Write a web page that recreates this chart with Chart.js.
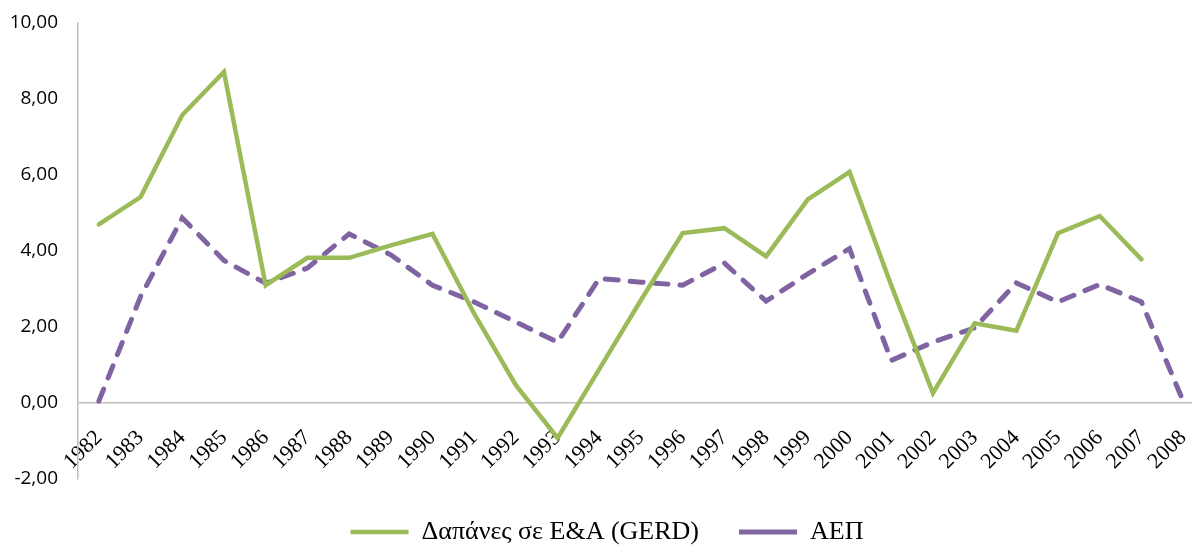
<!DOCTYPE html>
<html>
<head>
<meta charset="utf-8">
<script src="https://cdn.jsdelivr.net/npm/chart.js@4"></script>
<style>
html,body{margin:0;padding:0;overflow:hidden;background:#fff;width:1192px;height:546px}
#wrap{position:relative;width:1212px;height:555px}
</style>
</head>
<body>
<div id="wrap"><canvas id="c" width="1212" height="555"></canvas></div>
<script>
const years = ['1982','1983','1984','1985','1986','1987','1988','1989','1990','1991','1992','1993','1994','1995','1996','1997','1998','1999','2000','2001','2002','2003','2004','2005','2006','2007','2008'];
const gerd = [4.70, 5.42, 7.58, 8.71, 3.10, 3.82, 3.82, 4.15, 4.45, 2.35, 0.47, -0.92, 0.89, 2.71, 4.47, 4.60, 3.86, 5.36, 6.08, 3.10, 0.26, 2.10, 1.90, 4.47, 4.92, 3.78, null];
const gdp = [0.05, 2.80, 4.87, 3.75, 3.15, 3.55, 4.45, 3.90, 3.10, 2.66, 2.13, 1.60, 3.28, 3.18, 3.10, 3.68, 2.68, 3.40, 4.06, 1.12, 1.60, 1.98, 3.16, 2.66, 3.12, 2.66, 0.05];
const seriesNames = ['Δαπάνες σε Ε&Α (GERD)', 'ΑΕΠ'];
const yMin = -2, yMax = 10, yStep = 2;

new Chart(document.getElementById('c'), {
  type: 'line',
  data: {
    labels: years,
    datasets: [
      {
        label: seriesNames[0],
        data: gerd,
        borderColor: '#9BBB59',
        backgroundColor: '#9BBB59',
        borderWidth: 4.5,
        pointRadius: 0,
        pointHoverRadius: 0,
        pointStyle: 'line',
        borderCapStyle: 'round',
        tension: 0
      },
      {
        label: seriesNames[1],
        data: gdp,
        borderColor: '#8064A2',
        backgroundColor: '#8064A2',
        borderWidth: 5,
        borderDash: [13, 12],
        borderCapStyle: 'round',
        pointRadius: 0,
        pointHoverRadius: 0,
        pointStyle: 'line',
        tension: 0
      }
    ]
  },
  options: {
    responsive: false,
    animation: false,
    devicePixelRatio: 1,
    layout: { padding: { left: 10, top: 23, right: 8, bottom: 0 } },
    plugins: {
      tooltip: { enabled: false },
      legend: {
        position: 'bottom',
        labels: {
          usePointStyle: true,
          pointStyleWidth: 58,
          boxHeight: 10,
          padding: 40,
          color: '#000',
          font: { family: 'Liberation Serif', size: 26 }
        }
      }
    },
    scales: {
      x: {
        type: 'category',
        offset: true,
        position: { y: -0.5 },
        grid: { display: false, drawTicks: false },
        border: { display: false },
        ticks: {
          autoSkip: false,
          minRotation: 45,
          maxRotation: 45,
          color: '#000',
          font: { family: 'Liberation Serif', size: 22 }
        },
        afterFit: s => { s.paddingLeft = 0; s.paddingRight = 0; }
      },
      y: {
        min: yMin,
        max: yMax,
        grid: {
          display: true,
          drawTicks: false,
          lineWidth: 1.5,
          color: ctx => (ctx.tick && ctx.tick.value === 0) ? '#BFBFBF' : 'rgba(0,0,0,0)'
        },
        border: { display: true, color: '#BFBFBF', width: 1.5 },
        ticks: {
          stepSize: yStep,
          padding: 20,
          color: '#000',
          font: { family: 'Open Sans', size: 19 },
          callback: v => Number(v).toFixed(2).replace('.', ',')
        },
        afterFit: s => { s.width = 68; s.paddingTop = 0; s.paddingBottom = 0; }
      }
    }
  }
});
</script>
</body>
</html>
